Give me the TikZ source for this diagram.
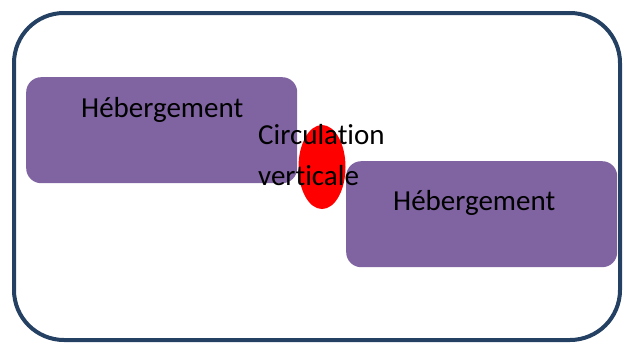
\documentclass[tikz,border=0pt]{standalone}
\usepackage{fontspec}
\setmainfont{Carlito}[Ligatures={NoCommon}]
\usetikzlibrary{shapes.geometric}
\definecolor{frameblue}{RGB}{36,64,98}
\definecolor{lodging}{RGB}{128,100,162}
\tikzset{
  zone/.style={fill=lodging, rounded corners=15pt, minimum width=271pt, minimum height=106pt, inner sep=0pt, anchor=north west},
  roomtext/.style={anchor=base west, inner sep=0pt, font=\fontsize{29}{41}\selectfont, align=left}
}
\begin{document}
\begin{tikzpicture}[x=1pt,y=-1pt]
\useasboundingbox (0,0) rectangle (627,343);
\draw[frameblue, line width=4pt, rounded corners=50pt] (14,13) rectangle (620,340);
\node[zone] (hebA) at (26,77) {};
\node[zone] (hebB) at (346,161) {};
\node[ellipse, fill=red, minimum width=47pt, minimum height=84pt, inner sep=0pt] (circ) at (322,167) {};
\node[roomtext] (hebAtext) at (81,117) {Hébergement};
\node[roomtext] (hebBtext) at (393,210) {Hébergement};
\node[roomtext] (circtext) at (258,185) {Circulation\\verticale};
\end{tikzpicture}
\end{document}
